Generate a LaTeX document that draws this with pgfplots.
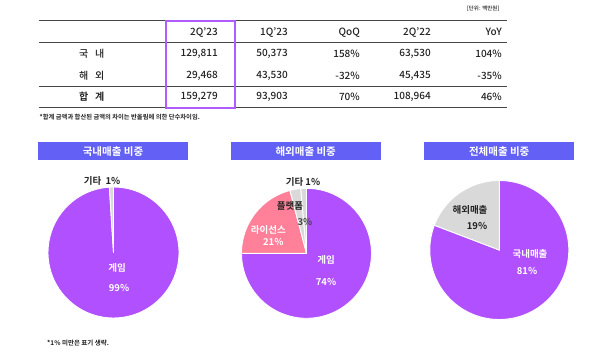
\documentclass[border=0pt]{standalone}
\usepackage{pgfplots}
\pgfplotsset{compat=1.18}
\usepackage{fontspec}
\setmainfont{Noto Sans CJK KR}[UprightFont=* Medium, BoldFont=* Bold]
\definecolor{gamepurple}{RGB}{176,80,255}
\definecolor{licpink}{RGB}{255,128,152}
\definecolor{etcgray}{RGB}{217,217,217}
\definecolor{titleblue}{RGB}{98,96,245}
\definecolor{hlpurple}{RGB}{176,92,255}
\definecolor{rulegray}{RGB}{70,70,70}
\definecolor{txt}{RGB}{34,34,34}
% slice: cx, cy, r, start %, end %, colour  (clockwise from 12 o'clock)
\newcommand{\pieslice}[6]{%
  \addplot[fill=#6, draw=white, line width=0.9pt, domain=#4*3.6:#5*3.6, samples=90]
    ({#1+#3*sin(x)},{#2-#3*cos(x)}) -- (axis cs:#1,#2) -- cycle;}
\begin{document}
\begin{tikzpicture}
\begin{axis}[hide axis, scale only axis, width=600pt, height=357pt,
  xmin=0, xmax=600, ymin=0, ymax=357, y dir=reverse, clip=false]
\path (axis cs:0,0) rectangle (axis cs:600,357);
% ---------- table ----------
\node[anchor=east, font=\fontsize{5.5}{6}\selectfont, text=txt] at (axis cs:503,9) {[단위: 백만원]};
\draw[line width=1.2pt, rulegray] (axis cs:39,20.7) -- (axis cs:507,20.7);
\draw[line width=0.9pt, rulegray] (axis cs:39,42.3) -- (axis cs:507,42.3);
\draw[line width=0.9pt, rulegray] (axis cs:39,86) -- (axis cs:507,86);
\draw[line width=1.2pt, rulegray] (axis cs:39,107.3) -- (axis cs:507,107.3);
\begin{scope}[every node/.style={anchor=east, font=\fontsize{10}{12}\selectfont, text=txt, inner sep=0pt}]
\node at (axis cs:218,32.3) {2Q’23};
\node at (axis cs:288,32.3) {1Q’23};
\node at (axis cs:360,32.3) {QoQ};
\node at (axis cs:431,32.3) {2Q’22};
\node at (axis cs:502,32.3) {YoY};
\node at (axis cs:218,53.5) {129,811};
\node at (axis cs:288,53.5) {50,373};
\node at (axis cs:360,53.5) {158\%};
\node at (axis cs:431,53.5) {63,530};
\node at (axis cs:502,53.5) {104\%};
\node at (axis cs:218,76) {29,468};
\node at (axis cs:288,76) {43,530};
\node at (axis cs:360,76) {-32\%};
\node at (axis cs:431,76) {45,435};
\node at (axis cs:502,76) {-35\%};
\node at (axis cs:218,97) {159,279};
\node at (axis cs:288,97) {93,903};
\node at (axis cs:360,97) {70\%};
\node at (axis cs:431,97) {108,964};
\node at (axis cs:502,97) {46\%};
\end{scope}
\begin{scope}[every node/.style={anchor=center, font=\fontsize{10}{12}\selectfont, text=txt, inner sep=0pt}]
\node at (axis cs:91.7,53.5) {국\hspace{7pt}내};
\node at (axis cs:91.7,76) {해\hspace{7pt}외};
\node[font=\fontsize{10}{12}\selectfont\bfseries] at (axis cs:91.7,97) {합\hspace{7pt}계};
\end{scope}
\draw[line width=2.2pt, hlpurple] (axis cs:165.7,21.3) rectangle (axis cs:235.3,107.7);
\node[anchor=west, font=\fontsize{6.3}{7}\selectfont\bfseries, text=txt, inner sep=0pt] at (axis cs:39.5,117.5) {*합계 금액과 합산된 금액의 차이는 반올림에 의한 단수차이임.};
% ---------- titles ----------
\begin{scope}[every node/.style={fill=titleblue, text=white, inner sep=0pt, minimum height=17.7pt, font=\fontsize{10.5}{11}\selectfont\bfseries}]
\node[minimum width=150.6pt] at (axis cs:113,151.2) {국내매출 비중};
\node[minimum width=150pt] at (axis cs:305.7,151.2) {해외매출 비중};
\node[minimum width=149.7pt] at (axis cs:499.2,151.2) {전체매출 비중};
\end{scope}
% ---------- pie 1: 국내매출 ----------
\pieslice{113.5}{252.5}{65.5}{0}{99}{gamepurple}
\pieslice{113.5}{252.5}{65.5}{99}{100}{etcgray}
% ---------- pie 2: 해외매출 ----------
\pieslice{306.5}{253.3}{65}{0}{75}{gamepurple}
\pieslice{306.5}{253.3}{65}{75}{95.9}{licpink}
\pieslice{306.5}{253.3}{65}{95.9}{98.6}{etcgray}
\pieslice{306.5}{253.3}{65}{98.6}{100}{etcgray}
% ---------- pie 3: 전체매출 ----------
\pieslice{499.3}{250}{69.5}{0}{80.8}{gamepurple}
\pieslice{499.3}{250}{69.5}{80.8}{100}{etcgray}
% ---------- labels ----------
\begin{scope}[every node/.style={inner sep=0pt, font=\fontsize{9.5}{10}\selectfont\bfseries}]
\node[text=txt] at (axis cs:92.5,180.5) {기타};
\node[text=txt] at (axis cs:113,181) {1\%};
\node[text=white] at (axis cs:117,268.3) {게임};
\node[text=white] at (axis cs:119,287.7) {99\%};
\node[text=txt] at (axis cs:303,182.3) {기타 1\%};
\node[text=txt] at (axis cs:290,205.7) {플랫폼};
\node[text=rulegray] at (axis cs:305,222) {3\%};
\node[text=white] at (axis cs:268.3,230) {라이선스};
\node[text=white] at (axis cs:273.3,242.3) {21\%};
\node[text=white] at (axis cs:326,260) {게임};
\node[text=white] at (axis cs:326,281.7) {74\%};
\node[text=txt] at (axis cs:470,210) {해외매출};
\node[text=txt] at (axis cs:477,226) {19\%};
\node[text=white] at (axis cs:530,254.3) {국내매출};
\node[text=white] at (axis cs:527,271) {81\%};
\end{scope}
\node[anchor=west, font=\fontsize{6.5}{7}\selectfont\bfseries, text=txt, inner sep=0pt] at (axis cs:47,343.3) {*1\% 미만은 표기 생략.};
\end{axis}
\end{tikzpicture}
\end{document}
